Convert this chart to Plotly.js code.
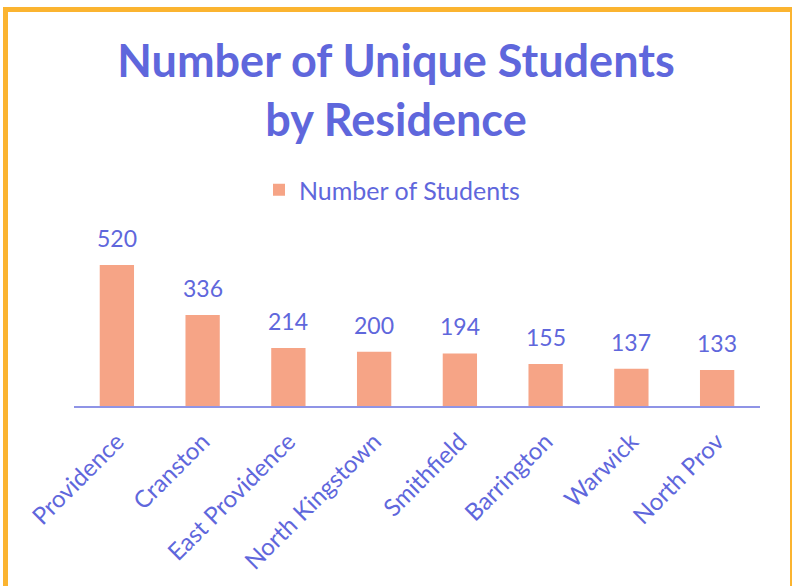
<!DOCTYPE html>
<html><head><meta charset="utf-8">
<script src="https://cdn.plot.ly/plotly-3.0.1.min.js"></script>
<style>
html,body{margin:0;padding:0;background:#fff;}
#wrap{position:relative;width:792px;height:586px;overflow:hidden;}
#chart{width:792px;height:586px;}
#frame{position:absolute;left:3px;top:7px;width:782px;height:600px;border:5px solid #FBB430;border-bottom:none;pointer-events:none;box-sizing:content-box;}
</style></head>
<body><div id="wrap"><div id="chart"></div><div id="frame"></div></div>
<script>
const categories = ["Providence","Cranston","East Providence","North Kingstown","Smithfield","Barrington","Warwick","North Prov"];
const students = [520,336,214,200,194,155,137,133];
const seriesName = "Number of Students";

const textColor = "#5F67DC";
const barColor = "#F6A486";
const fontFam = "Lato, 'Open Sans', sans-serif";

const trace = {
  type: "bar",
  x: categories,
  y: students,
  name: seriesName,
  marker: {color: barColor},
  hoverinfo: "x+y"
};

const annotations = categories.map((c,i)=>({
  x: c, y: students[i], xref:"x", yref:"y",
  text: String(students[i]), showarrow:false,
  yanchor:"bottom", yshift: 11,
  font:{family:fontFam, size:23, color:textColor}
}));

const layout = {
  width: 792, height: 586,
  margin: {l:74, r:32, t:220, b:180},
  paper_bgcolor: "#fff", plot_bgcolor: "#fff",
  font: {family: fontFam, color: textColor},
  title: {
    text: "<b>Number of Unique Students<br>by Residence</b>",
    x: 0.5, xanchor: "center",
    y: 1 - 77/586, yanchor: "top", yref: "container",
    font: {family: fontFam, size: 45, color: textColor}
  },
  showlegend: true,
  legend: {
    orientation: "h", x: 0.5 - 25/686, xanchor: "center",
    y: 1 - 190/586, yanchor: "middle", yref: "container",
    font: {family: fontFam, size: 25, color: textColor},
    itemwidth: 30
  },
  bargap: 0.6,
  xaxis: {
    type: "category",
    showline: true, linecolor: "#8F94E6", linewidth: 2,
    ticks: "", tickangle: -45,
    tickfont: {family: fontFam, size: 24, color: textColor},
    ticklabelstandoff: 10,
    showgrid: false, zeroline: false
  },
  yaxis: {
    range: [0, 686], visible: false, showgrid: false, zeroline: false
  },
  annotations: annotations
};

Plotly.newPlot("chart", [trace], layout, {displayModeBar:false, staticPlot:true});
</script></body></html>
